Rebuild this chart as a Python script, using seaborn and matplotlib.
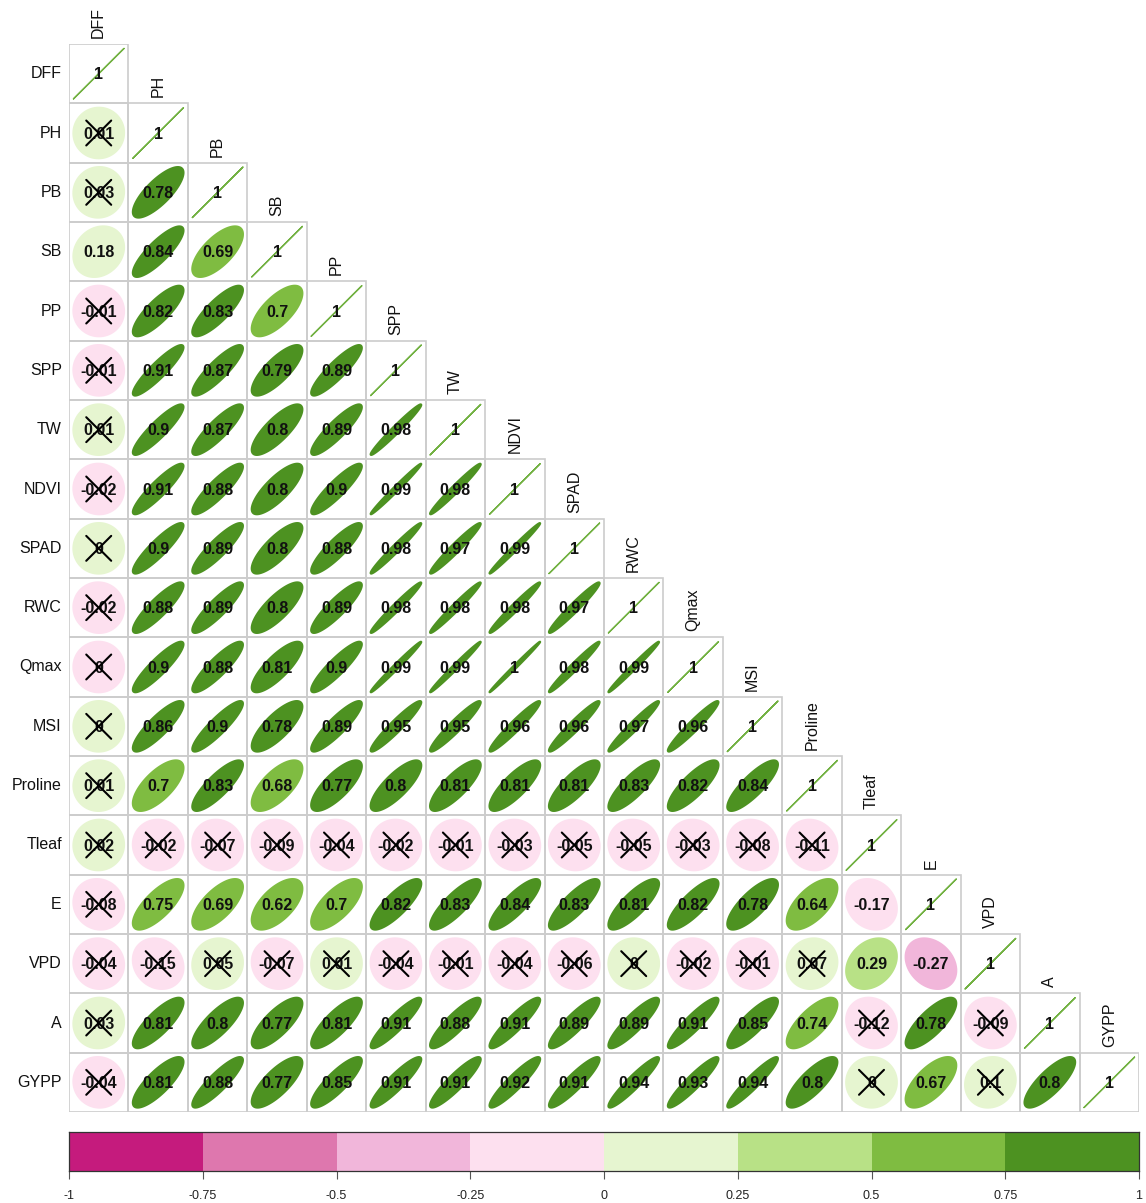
import numpy as np
import matplotlib
matplotlib.use("Agg")
import matplotlib.pyplot as plt
from matplotlib.colors import ListedColormap
from matplotlib.patches import Polygon, Rectangle
import seaborn as sns

# Trait names, in matrix order
traits = ["DFF", "PH", "PB", "SB", "PP", "SPP", "TW", "NDVI", "SPAD", "RWC",
          "Qmax", "MSI", "Proline", "Tleaf", "E", "VPD", "A", "GYPP"]

# Lower-triangle Pearson correlations: row i holds r(trait_i, trait_j) for j < i
lower_r = [
    [],
    [0.01],
    [0.03, 0.78],
    [0.18, 0.84, 0.69],
    [-0.01, 0.82, 0.83, 0.70],
    [-0.01, 0.91, 0.87, 0.79, 0.89],
    [0.01, 0.90, 0.87, 0.80, 0.89, 0.98],
    [-0.02, 0.91, 0.88, 0.80, 0.90, 0.99, 0.98],
    [0.003, 0.90, 0.89, 0.80, 0.88, 0.98, 0.97, 0.99],
    [-0.02, 0.88, 0.89, 0.80, 0.89, 0.98, 0.98, 0.98, 0.97],
    [-0.004, 0.90, 0.88, 0.81, 0.90, 0.99, 0.99, 0.996, 0.98, 0.99],
    [0.004, 0.86, 0.90, 0.78, 0.89, 0.95, 0.95, 0.96, 0.96, 0.97, 0.96],
    [0.01, 0.70, 0.83, 0.68, 0.77, 0.80, 0.81, 0.81, 0.81, 0.83, 0.82, 0.84],
    [0.02, -0.02, -0.07, -0.09, -0.04, -0.02, -0.01, -0.03, -0.05, -0.05, -0.03, -0.08, -0.11],
    [-0.08, 0.748, 0.69, 0.62, 0.70, 0.82, 0.83, 0.84, 0.83, 0.81, 0.82, 0.78, 0.64, -0.17],
    [-0.04, -0.15, 0.05, -0.07, 0.01, -0.04, -0.01, -0.04, -0.06, 0.002, -0.02, -0.01, 0.07, 0.29, -0.27],
    [0.03, 0.81, 0.80, 0.77, 0.81, 0.91, 0.88, 0.91, 0.89, 0.89, 0.91, 0.85, 0.74, -0.12, 0.78, -0.09],
    [-0.04, 0.81, 0.88, 0.77, 0.85, 0.91, 0.91, 0.92, 0.91, 0.94, 0.93, 0.94, 0.80, 0.004, 0.67, 0.10, 0.80],
]

# Number of observations behind each coefficient and the test level
n_obs = 150
z_crit = 1.96

# Colour bar
bar_breaks = [-1, -0.75, -0.5, -0.25, 0, 0.25, 0.5, 0.75, 1]
bar_labels = ["-1", "-0.75", "-0.5", "-0.25", "0", "0.25", "0.5", "0.75", "1"]

# PiYG, 8 classes
piyg8 = ["#C51B7D", "#DE77AE", "#F1B6DA", "#FDE0EF",
         "#E6F5D0", "#B8E186", "#7FBC41", "#4D9221"]

sns.set_theme(style="white")
plt.rcParams["font.family"] = ["Liberation Sans", "DejaVu Sans"]

n = len(traits)
R = np.eye(n)
for i, row in enumerate(lower_r):
    for j, v in enumerate(row):
        R[i, j] = R[j, i] = v


def bin_colour(r):
    idx = int(np.clip(np.digitize(r, bar_breaks[1:-1]), 0, 7))
    return piyg8[idx]


def fmt(r):
    v = round(r, 2)
    if v == 0:
        return "0"
    return f"{v:g}"


def ellipse_xy(rho, npts=99):
    a = np.arccos(np.clip(rho, -1, 1))
    k = np.linspace(0, 2 * np.pi, npts)
    return np.cos(k + a / 2) / 2, np.cos(k - a / 2) / 2


W, H = 1146, 1203
fig = plt.figure(figsize=(W / 100, H / 100), dpi=100)

gx0, gx1, gy0, gy1 = 69, 1139, 44, 1112
ax = fig.add_axes([gx0 / W, 1 - gy1 / H, (gx1 - gx0) / W, (gy1 - gy0) / H])
ax.set_xlim(0, n)
ax.set_ylim(n, 0)
ax.axis("off")

grid_col = "#CCCCCC"
scale = 0.85
for i in range(n):
    for j in range(i + 1):
        ax.add_patch(Rectangle((j, i), 1, 1, fill=False, edgecolor=grid_col,
                               linewidth=1.2, zorder=1))
        r = R[i, j]
        cx, cy = j + 0.5, i + 0.5
        ex, ey = ellipse_xy(r)
        pts = np.column_stack([cx + scale * ex, cy - scale * ey])
        col = bin_colour(r)
        if i == j:
            ax.plot(pts[:, 0], pts[:, 1], color="#72B142", lw=1.0, zorder=2)
        else:
            ax.add_patch(Polygon(pts, closed=True, facecolor=col, edgecolor=col,
                                 linewidth=1.6, joinstyle="round", zorder=2))
        ax.text(cx, cy + 0.02, fmt(r), ha="center", va="center", fontsize=11.5,
                fontweight="bold", color="#111111", zorder=3)
        if i != j:
            t_stat = abs(r) * np.sqrt((n_obs - 2) / max(1e-12, 1 - r * r))
            if t_stat < z_crit:
                d = 0.21
                ax.plot([cx - d, cx + d], [cy - d, cy + d], color="black", lw=1.5, zorder=4)
                ax.plot([cx - d, cx + d], [cy + d, cy - d], color="black", lw=1.5, zorder=4)

# Row labels on the left, column labels above each diagonal cell
for i, name in enumerate(traits):
    ax.text(-0.12, i + 0.5, name, ha="right", va="center", fontsize=11.5,
            color="#111111", clip_on=False)
    ax.text(i + 0.5, i - 0.1, name, ha="center", va="bottom", rotation=90,
            fontsize=11.5, color="#111111", clip_on=False)

# Colour bar drawn as a one-row heatmap
by0, by1 = 1132, 1171
cax = fig.add_axes([gx0 / W, 1 - by1 / H, (gx1 - gx0) / W, (by1 - by0) / H])
bar_vals = np.arange(8).reshape(1, -1)
sns.heatmap(bar_vals, ax=cax, cmap=ListedColormap(piyg8), vmin=-0.5, vmax=7.5,
            cbar=False, xticklabels=False, yticklabels=False, linewidths=0)
for s in cax.spines.values():
    s.set_visible(True)
    s.set_color("#333333")
    s.set_linewidth(0.9)
cax.set_xticks(np.arange(9))
cax.set_xticklabels(bar_labels, fontsize=9, color="#222222")
cax.tick_params(axis="x", bottom=True, length=6, width=0.8, color="#555555",
                pad=8)
cax.set_yticks([])

fig.savefig("out.png", dpi=100)
